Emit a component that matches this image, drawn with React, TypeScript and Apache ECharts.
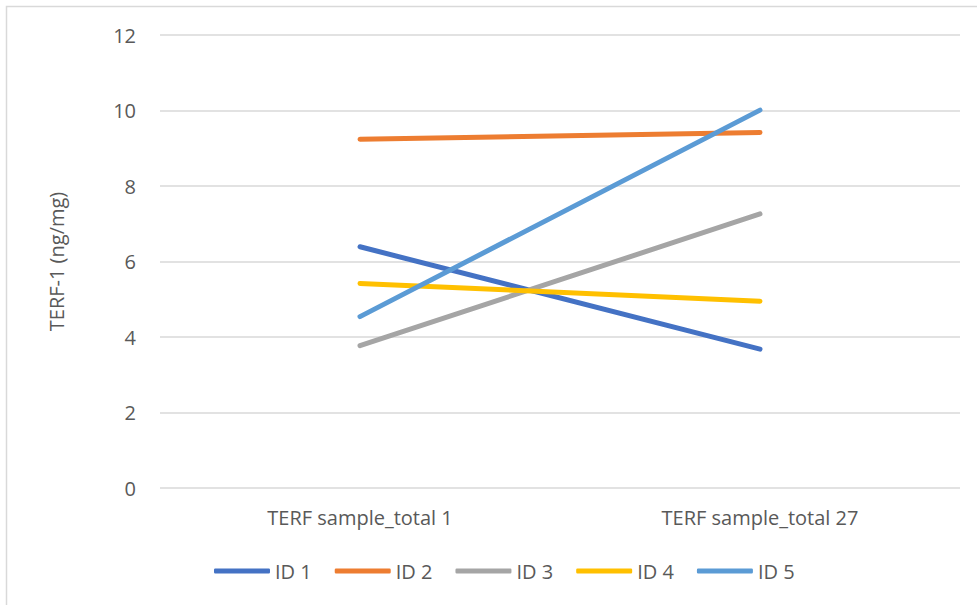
import React, { useEffect, useRef } from "react";
import * as echarts from "echarts";

const categories = ["TERF sample_total 1", "TERF sample_total 27"];
const seriesNames = ["ID 1", "ID 2", "ID 3", "ID 4", "ID 5"];
const id1 = [6.39, 3.68];
const id2 = [9.24, 9.42];
const id3 = [3.77, 7.26];
const id4 = [5.42, 4.95];
const id5 = [4.54, 10.01];
const seriesValues = [id1, id2, id3, id4, id5];
const colors = ["#4472C4", "#ED7D31", "#A5A5A5", "#FFC000", "#5B9BD5"];
const yTitle = "TERF-1 (ng/mg)";

const FONT = "Open Sans";
const TEXT = "#595959";

export default function App() {
  const ref = useRef<HTMLDivElement>(null);
  useEffect(() => {
    if (!ref.current) return;
    const chart = echarts.init(ref.current, undefined, { renderer: "svg" });
    chart.setOption({
      animation: false,
      backgroundColor: "#ffffff",
      color: colors,
      textStyle: { fontFamily: FONT, color: TEXT },
      graphic: [
        {
          type: "rect",
          shape: { x: 6.5, y: 6.5, width: 1100, height: 1100 },
          style: { fill: "none", stroke: "#d9d9d9", lineWidth: 1.5 },
          silent: true,
        },
      ],
      grid: { left: 160, right: 17, top: 35, bottom: 117, containLabel: false },
      xAxis: {
        type: "category",
        data: categories,
        boundaryGap: true,
        axisLine: { show: false },
        axisTick: { show: false },
        axisLabel: { color: TEXT, fontFamily: FONT, fontSize: 20, margin: 19 },
        splitLine: { show: false },
      },
      yAxis: {
        type: "value",
        min: 0,
        max: 12,
        interval: 2,
        name: yTitle,
        nameLocation: "middle",
        nameGap: 94,
        nameRotate: 90,
        nameTextStyle: { color: TEXT, fontFamily: FONT, fontSize: 20 },
        axisLine: { show: false },
        axisTick: { show: false },
        axisLabel: { color: TEXT, fontFamily: FONT, fontSize: 20, margin: 24 },
        splitLine: { lineStyle: { color: "#d9d9d9", width: 1.5 } },
      },
      legend: {
        data: seriesNames,
        left: 209,
        top: 556,
        icon: "roundRect",
        itemWidth: 56,
        itemHeight: 5,
        itemGap: 23,
        textStyle: { color: TEXT, fontFamily: FONT, fontSize: 20 },
      },
      series: seriesNames.map((name, i) => ({
        name,
        type: "line",
        data: seriesValues[i],
        symbol: "none",
        showSymbol: false,
        lineStyle: { width: 5, color: colors[i], cap: "round" },
        itemStyle: { color: colors[i] },
      })),
    });
    return () => chart.dispose();
  }, []);
  return (
    <div
      ref={ref}
      style={{ position: "absolute", left: 0, top: 0, width: 977, height: 605 }}
    />
  );
}
